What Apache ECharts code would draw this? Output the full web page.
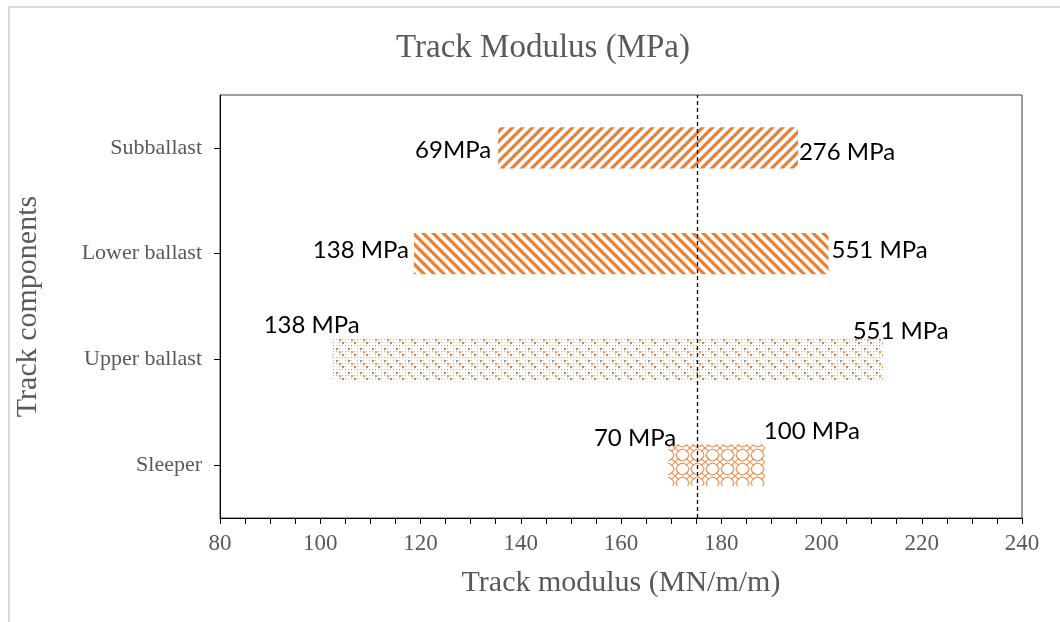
<!DOCTYPE html>
<html><head><meta charset="utf-8">
<script src="https://cdn.jsdelivr.net/npm/echarts@6/dist/echarts.min.js"></script>
<style>
html,body{margin:0;padding:0;background:#fff;overflow:hidden;}
#frame{position:absolute;left:8px;top:6px;width:1120px;height:700px;border:2px solid #d9d9d9;box-sizing:border-box;}
#chart{position:absolute;left:0;top:0;width:1060px;height:622px;}
</style></head>
<body><div id="frame"></div><div id="chart"></div>
<script>
// ---- data ----
const categories = ['Sleeper', 'Upper ballast', 'Lower ballast', 'Subballast'];
const rangeStart = [169.4, 102.3, 118.7, 135.5];
const rangeEnd   = [188.7, 212.2, 201.4, 195.3];
const leftLabels  = ['70 MPa', '138 MPa', '138 MPa', '69MPa'];
const rightLabels = ['100 MPa', '551 MPa', '551 MPa', '276 MPa'];
const referenceValue = 175.3;
const xTicks = [80, 100, 120, 140, 160, 180, 200, 220, 240];

// ---- label placement (style) ----
const leftLabelStyle  = [{dx: 8, dy: -27}, {dx: 28, dy: -34}, {dx: -5, dy: -3}, {dx: -7, dy: 2}];
const rightLabelStyle = [{dx: -1, dy: -34}, {dx: -30, dy: -28}, {dx: 3, dy: -3}, {dx: 1, dy: 4}];

// ---- patterns ----
const ORANGE = '#ED7D31';
function stripes(dir) {
  const c = document.createElement('canvas'); c.width = 10; c.height = 10;
  const g = c.getContext('2d');
  g.strokeStyle = ORANGE; g.lineWidth = 3.2; g.lineCap = 'square';
  for (let k = -1; k <= 1; k++) {
    g.beginPath();
    if (dir > 0) { g.moveTo(k * 10 - 2, 12); g.lineTo(k * 10 + 12, -2); }
    else { g.moveTo(k * 10 - 2, -2); g.lineTo(k * 10 + 12, 12); }
    g.stroke();
  }
  return c;
}
function dots() {
  const c = document.createElement('canvas'); c.width = 12; c.height = 12;
  const g = c.getContext('2d');
  const put = (x, y, a, s) => { g.fillStyle = 'rgba(237,125,49,' + a + ')'; g.fillRect(x, y, s, s); };
  put(0, 0, 1, 2); put(6, 6, 1, 2);
  put(3, 0, 0.7, 1); put(9, 0, 0.7, 1); put(0, 3, 0.7, 1); put(6, 3, 0.75, 1);
  put(3, 6, 0.7, 1); put(9, 6, 0.7, 1); put(0, 9, 0.7, 1); put(6, 9, 0.75, 1);
  put(3, 3, 0.85, 2); put(9, 9, 0.85, 1); put(9, 3, 0.85, 1); put(3, 9, 0.85, 1);
  return c;
}
function lattice() {
  const c = document.createElement('canvas'); c.width = 15; c.height = 14;
  const g = c.getContext('2d');
  g.strokeStyle = 'rgba(237,125,49,0.85)'; g.lineWidth = 1.1;
  // rounded diamond in the cell
  g.beginPath();
  g.moveTo(7.5, 1);
  g.quadraticCurveTo(12.5, 2, 14, 7);
  g.quadraticCurveTo(12.5, 12, 7.5, 13);
  g.quadraticCurveTo(2.5, 12, 1, 7);
  g.quadraticCurveTo(2.5, 2, 7.5, 1);
  g.stroke();
  // crosses at the cell corners
  g.beginPath();
  g.moveTo(0, 0); g.lineTo(4, 3.7); g.moveTo(15, 0); g.lineTo(11, 3.7);
  g.moveTo(0, 14); g.lineTo(4, 10.3); g.moveTo(15, 14); g.lineTo(11, 10.3);
  g.stroke();
  return c;
}
const patterns = [lattice(), dots(), stripes(-1), stripes(1)];

const seriesData = categories.map((c, i) => [i, rangeStart[i], rangeEnd[i]]);

const serif = '"Liberation Serif", "Times New Roman", serif';
const labelFont = '24px Lato, "Noto Sans", sans-serif';

const chart = echarts.init(document.getElementById('chart'), null, {renderer: 'canvas'});
chart.setOption({
  backgroundColor: 'transparent',
  animation: false,
  title: {
    text: 'Track Modulus (MPa)', left: 538, top: 27, textAlign: 'center',
    textStyle: {fontFamily: serif, fontSize: 33, fontWeight: 'normal', color: '#595959'}
  },
  grid: {left: 220, right: 38, top: 95, bottom: 104, show: true, borderColor: '#404040', borderWidth: 1, containLabel: false},
  xAxis: {
    type: 'value', min: xTicks[0], max: xTicks[xTicks.length - 1], interval: 20,
    name: 'Track modulus (MN/m/m)', nameLocation: 'middle', nameGap: 50,
    nameTextStyle: {fontFamily: serif, fontSize: 30, color: '#595959'},
    axisLine: {show: true, lineStyle: {color: '#000', width: 1}},
    axisTick: {show: true, length: 6, lineStyle: {color: '#000'}},
    minorTick: {show: true, splitNumber: 4, length: 6, lineStyle: {color: '#000'}},
    splitLine: {show: false},
    axisLabel: {fontFamily: serif, fontSize: 23, color: '#595959', margin: 14}
  },
  yAxis: {
    type: 'category', data: categories,
    name: 'Track components', nameLocation: 'middle', nameGap: 177, nameRotate: 90,
    nameTextStyle: {fontFamily: serif, fontSize: 30, color: '#595959'},
    axisLine: {show: true, lineStyle: {color: '#000', width: 1}},
    axisTick: {show: true, alignWithLabel: true, length: 6, lineStyle: {color: '#000'}},
    splitLine: {show: false},
    axisLabel: {fontFamily: serif, fontSize: 22, color: '#595959', margin: 18}
  },
  series: [
    {
      type: 'custom',
      data: seriesData,
      encode: {x: [1, 2], y: 0},
      renderItem: function (params, api) {
        const i = params.dataIndex;
        const ci = api.value(0), s = api.value(1), e = api.value(2);
        const p0 = api.coord([s, ci]);
        const p1 = api.coord([e, ci]);
        const h = api.size([0, 1])[1] * 0.39;
        const L = leftLabelStyle[i], R = rightLabelStyle[i];
        return {
          type: 'group',
          children: [
            {type: 'rect', shape: {x: p0[0], y: p0[1] - h / 2, width: p1[0] - p0[0], height: h},
             style: {fill: {image: patterns[i], repeat: 'repeat'}}},
            {type: 'text', x: p0[0] + L.dx, y: p0[1] + L.dy,
             style: {text: leftLabels[i], font: labelFont, fill: '#000', align: 'right', verticalAlign: 'middle'}},
            {type: 'text', x: p1[0] + R.dx, y: p1[1] + R.dy,
             style: {text: rightLabels[i], font: labelFont, fill: '#000', align: 'left', verticalAlign: 'middle'}}
          ]
        };
      },
      z: 2
    },
    {
      type: 'line', data: [], silent: true,
      markLine: {
        silent: true, symbol: ['none', 'none'], label: {show: false},
        lineStyle: {color: '#000', type: [4, 3], width: 1.3},
        data: [{xAxis: referenceValue}]
      },
      z: 5
    }
  ]
});
</script></body></html>
